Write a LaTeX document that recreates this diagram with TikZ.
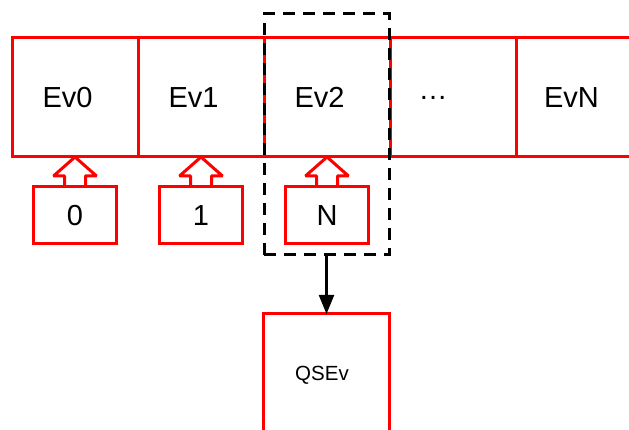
\documentclass[tikz,border=0pt]{standalone}
\usepackage{fontspec}
\setmainfont{Liberation Sans}
\usetikzlibrary{positioning,arrows.meta}
\begin{document}
\begin{tikzpicture}[x=1pt, y=1pt, >={Triangle[width=15pt,length=19pt]}, node distance=126pt,
  cell/.style={draw=red, line width=3pt, outer sep=0pt, minimum width=126pt, minimum height=119pt, font=\fontsize{29}{34}\selectfont, execute at end node=\hspace*{#1}},
  cell/.default=15pt,
  idx/.style={draw=red, line width=3pt, outer sep=0pt, minimum width=83pt, minimum height=57pt, font=\fontsize{29}{34}\selectfont},
  uparrow/.style={draw=red, line width=3pt, line join=bevel},
  selbox/.style={draw, line width=3pt, dash pattern=on 12pt off 8pt, outer sep=0pt}]
\clip (0,0) rectangle (629,430);
\node (ev0) [cell] at (75,332.5) {Ev0};
\node (ev1) [cell, right of=ev0] {Ev1};
\node (ev2) [cell, right of=ev1] {Ev2};
\node (evdots) [cell=40pt, right of=ev2] {…};
\node (evN) [cell, right of=evdots] {EvN};
\node (k0) [idx, below=30pt of ev0] {0};
\node (k1) [idx, below=30pt of ev1] {1};
\node (kN) [idx, below=30pt of ev2] {N};
\foreach \k in {k0,k1,kN}
  \draw[uparrow] ([xshift=-10.5pt]\k.north) -- ++(0,11) -- ++(-11,0) -- ++(21.5,19) -- ++(21.5,-19) -- ++(-11,0) -- ++(0,-11);
\node (sel) [selbox, minimum width=125pt, minimum height=241pt] at (326.5,295.5) {};
\node (qsev) [cell=9pt, minimum height=122pt, below=59pt of sel, font=\fontsize{20.5}{24}\selectfont] {QSEv};
\draw[->, line width=2.2pt] (sel) -- (qsev);
\end{tikzpicture}
\end{document}
